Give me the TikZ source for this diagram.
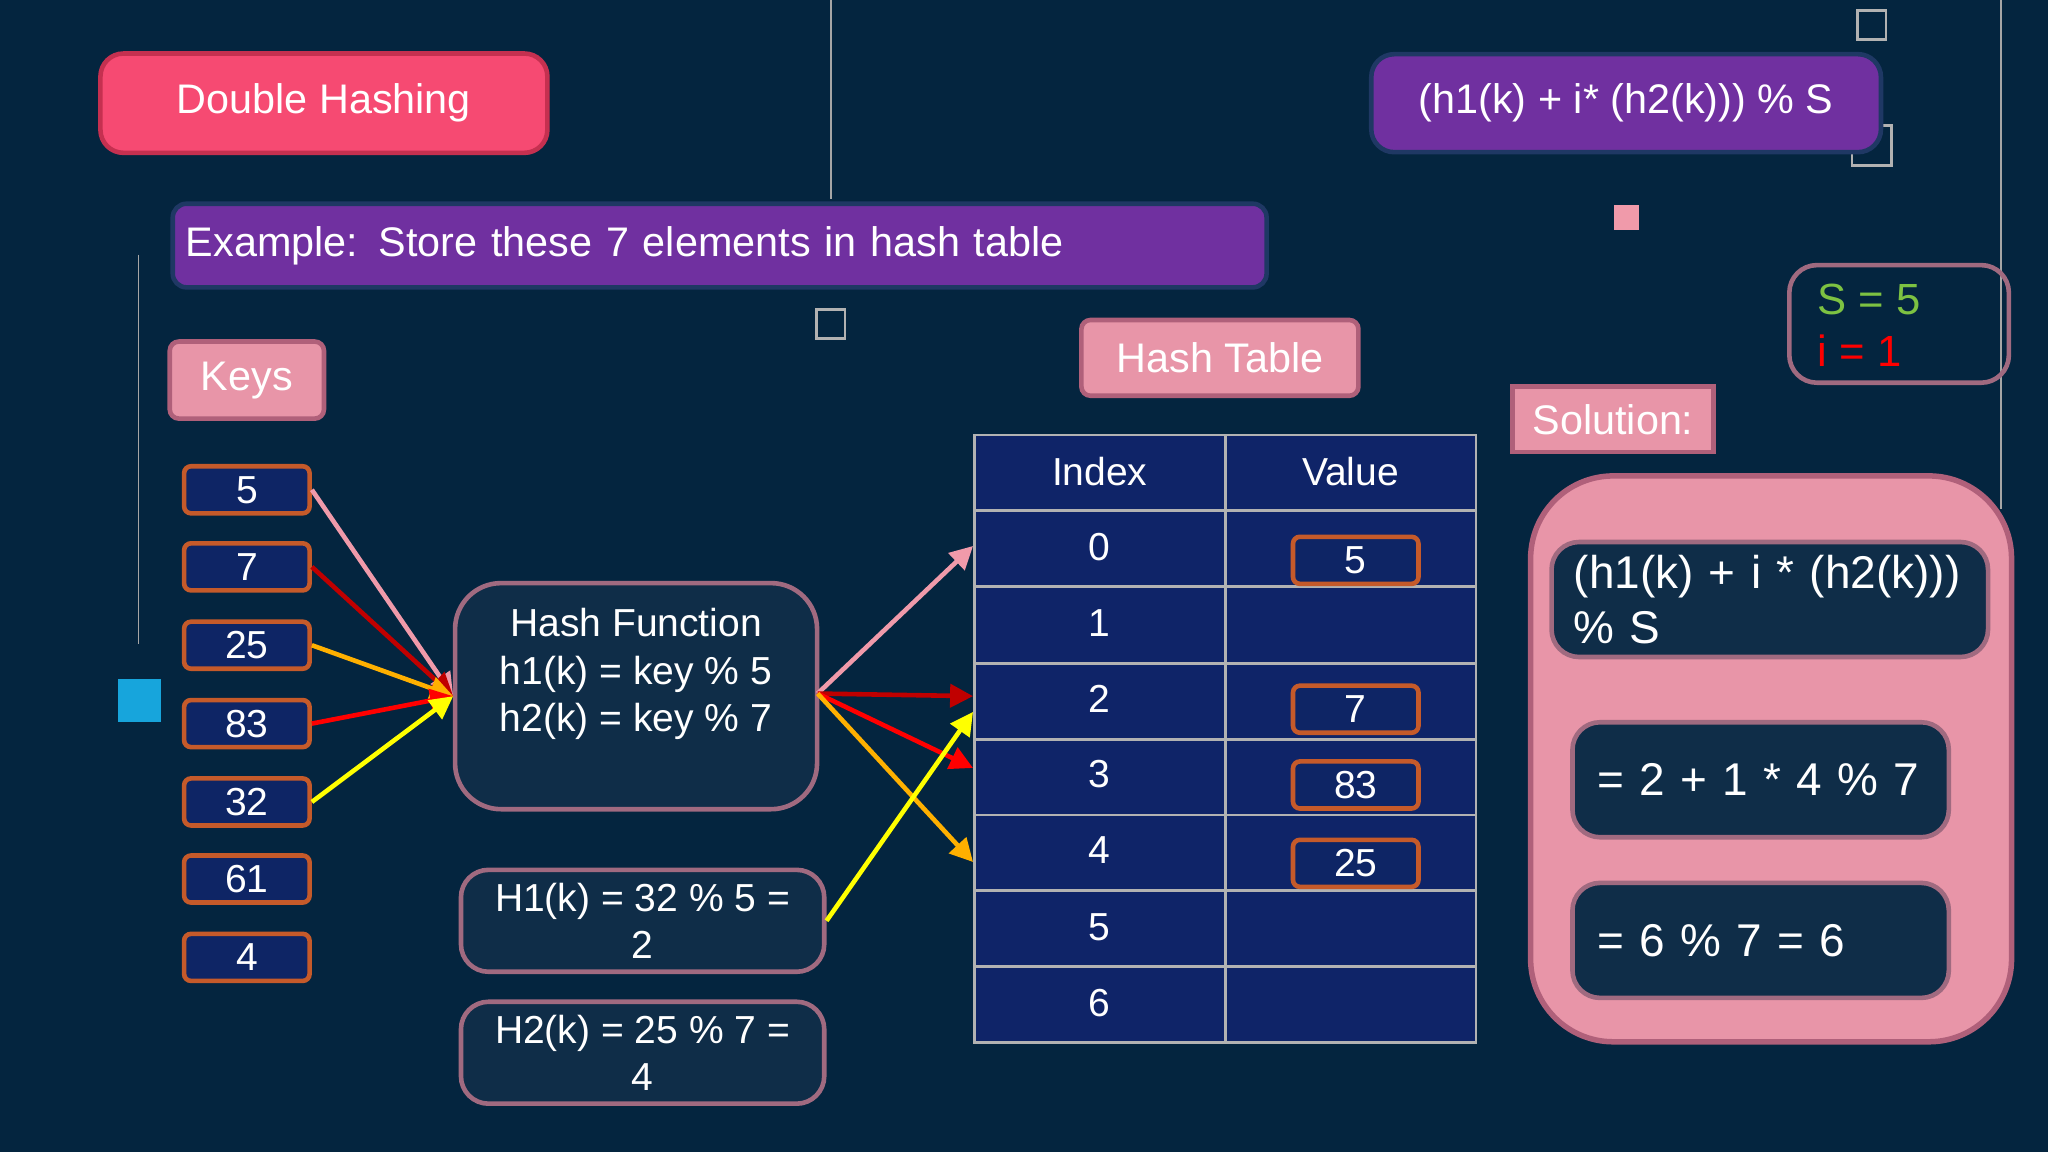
\documentclass[tikz,border=0pt]{standalone}
\usepackage{fontspec}
\setmainfont{Liberation Sans}
\usetikzlibrary{arrows.meta}
\definecolor{bg}{HTML}{04253F}
\definecolor{redbox}{HTML}{F64A72}
\definecolor{redbd}{HTML}{C53050}
\definecolor{purp}{HTML}{7030A0}
\definecolor{purpbd}{HTML}{1F3864}
\definecolor{pinkf}{HTML}{E895A8}
\definecolor{pinkbd}{HTML}{B0607A}
\definecolor{navy}{HTML}{0E2565}
\definecolor{orng}{HTML}{C55A2A}
\definecolor{dk}{HTML}{0F2D48}
\definecolor{dkbd}{HTML}{A06A80}
\definecolor{tbl}{HTML}{0F2468}
\definecolor{sgreen}{HTML}{7DC242}
\definecolor{lpink}{HTML}{F09AAA}
\definecolor{dred}{HTML}{C00000}
\definecolor{org}{HTML}{FFB000}
\definecolor{ylw}{HTML}{FFFF00}
\tikzset{
 lbl/.style={draw=#1, line width=1pt, text=white, font=\fontsize{9}{11}\selectfont, inner sep=0pt},
 keybox/.style={draw=orng, fill=navy, line width=1pt, rounded corners=1.5pt, minimum width=0.96cm, minimum height=0.36cm, text=white, font=\fontsize{8.5}{10}\selectfont, inner sep=0pt},
 dkbox/.style={draw=dkbd, fill=dk, line width=1pt, rounded corners=6pt, text=white, font=\fontsize{8.5}{10}\selectfont, align=center, inner sep=0pt},
 cell/.style={text=white, font=\fontsize{8.5}{10}\selectfont},
 arr/.style={line width=1pt, -{Triangle[length=5pt,width=5pt]}},
}
\begin{document}
\begin{tikzpicture}[x=0.01cm,y=-0.01cm]
\fill[bg] (0,0) rectangle (1568,882);
\useasboundingbox (0,0) rectangle (1568,882);
% decorations
\draw[gray!70, line width=0.4pt] (636,0) -- (636,152);
\draw[gray!70, line width=0.4pt] (106,195) -- (106,493);
\draw[gray!70, line width=0.4pt] (1532,0) -- (1532,390);
\draw[gray!60, line width=0.6pt] (1422,8) rectangle (1444,30);
\draw[gray!60, line width=0.6pt] (1418,96) rectangle (1448,127);
\fill[lpink] (1236,157) rectangle (1255,176);
\draw[gray!60, line width=0.6pt] (625,237) rectangle (647,259);
\fill[cyan!80!teal] (90,520) rectangle (123,553);
% title boxes
\node[lbl=redbd, fill=redbox, rounded corners=5pt, minimum width=3.42cm, minimum height=0.76cm] (title) at (248,79) {Double Hashing};
\node[lbl=purpbd, fill=purp, rounded corners=5pt, minimum width=3.90cm, minimum height=0.75cm] (formula) at (1245,79) {(h1(k) + i* (h2(k))) \% S};
\node[lbl=purpbd, fill=purp, rounded corners=3pt, minimum width=8.37cm, minimum height=0.64cm, text width=8.17cm, align=left] (example) at (551,188) {Example: Store these 7 elements in hash table};
\node[lbl=pinkbd, fill=pinkf, rounded corners=2pt, minimum width=1.18cm, minimum height=0.59cm] (keys) at (189,291) {Keys};
\node[lbl=pinkbd, fill=pinkf, rounded corners=2pt, minimum width=2.12cm, minimum height=0.58cm] (htl) at (934,274) {Hash Table};
\node[lbl=pinkbd, fill=pinkf, minimum width=1.54cm, minimum height=0.50cm] (sol) at (1235,321) {Solution:};
% keys
\node[keybox] (k5) at (189,375) {5};
\node[keybox] (k7) at (189,434) {7};
\node[keybox] (k25) at (189,494) {25};
\node[keybox] (k83) at (189,554) {83};
\node[keybox] (k32) at (189,614) {32};
\node[keybox] (k61) at (189,673) {61};
\node[keybox] (k4) at (189,733) {4};
% hash function
\node[dkbox, rounded corners=10pt, minimum width=2.77cm, minimum height=1.73cm] (hf) at (487,533) {};
\node[cell, align=center, font=\fontsize{8.5}{10.3}\selectfont] (hft) at (487,516) {Hash Function\\h1(k) = key \% 5\\h2(k) = key \% 7};
\node[dkbox, minimum width=2.78cm, minimum height=0.78cm, font=\fontsize{8.5}{10.3}\selectfont] (H1) at (492,705) {H1(k) = 32 \% 5 =\\2};
\node[dkbox, minimum width=2.78cm, minimum height=0.78cm, font=\fontsize{8.5}{10.3}\selectfont] (H2) at (492,806) {H2(k) = 25 \% 7 =\\4};
% table
\fill[tbl] (746,333) rectangle (1130,798);
\draw[gray!60, line width=0.6pt] (746,333) grid[xstep=0,ystep=0] (1130,798);
\draw[gray!60, line width=0.6pt] (746,333) rectangle (1130,798) (938,333) -- (938,798);
\foreach \y in {391,449,508,566,624,682,740} \draw[gray!60, line width=0.6pt] (746,\y) -- (1130,\y);
\node[cell] (hidx) at (842,361) {Index};
\node[cell] (hval) at (1034,361) {Value};
\node[cell] (i0) at (842,419) {0};
\node[cell] (i1) at (842,477) {1};
\node[cell] (i2) at (842,535) {2};
\node[cell] (i3) at (842,593) {3};
\node[cell] (i4) at (842,651) {4};
\node[cell] (i5) at (842,710) {5};
\node[cell] (i6) at (842,768) {6};
\node[keybox] (v0) at (1038,429) {5};
\node[keybox] (v2) at (1038,543) {7};
\node[keybox] (v3) at (1038,601) {83};
\node[keybox] (v4) at (1038,661) {25};
% S i box
\node[draw=dkbd, line width=1pt, rounded corners=6pt, minimum width=1.68cm, minimum height=0.90cm] (si) at (1454,248) {};
\node[anchor=west, font=\fontsize{9.5}{11.5}\selectfont, align=left, inner sep=0pt] (sit) at (1391,249) {\textcolor{sgreen}{S = 5}\\\textcolor{red}{i = 1}};
% solution panel
\node[draw=pinkbd, fill=pinkf, line width=1.2pt, rounded corners=18pt, minimum width=3.68cm, minimum height=4.33cm] (panel) at (1356,581) {};
\node[dkbox, minimum width=3.34cm, minimum height=0.88cm, text width=3.0cm, align=left, font=\fontsize{10}{12}\selectfont] (s1) at (1355,459) {(h1(k) + i * (h2(k)))\\\% S};
\node[dkbox, minimum width=2.88cm, minimum height=0.88cm, text width=2.5cm, align=left, font=\fontsize{10}{12}\selectfont] (s2) at (1348,597) {= 2 + 1 * 4 \% 7};
\node[dkbox, minimum width=2.88cm, minimum height=0.88cm, text width=2.5cm, align=left, font=\fontsize{10}{12}\selectfont] (s3) at (1348,720) {= 6 \% 7 = 6};
% arrows
\coordinate (hin) at (347,533);
\coordinate (hout) at (626,531);
\coordinate (t0) at (745,418);
\coordinate (t2) at (745,533);
\coordinate (t3) at (745,588);
\coordinate (t4) at (745,660);
\coordinate (t2b) at (745,545);
\draw[arr, lpink] (k5.east) -- (hin);
\draw[arr, dred] (k7.east) -- (hin);
\draw[arr, org] (k25.east) -- (hin);
\draw[arr, red] (k83.east) -- (hin);
\draw[arr, ylw] (k32.east) -- (hin);
\draw[arr, lpink] (hout) -- (t0);
\draw[arr, dred] (hout) -- (t2);
\draw[arr, red] (hout) -- (t3);
\draw[arr, org] (hout) -- (t4);
\draw[arr, ylw] (H1.east) -- (t2b);
\end{tikzpicture}
\end{document}
